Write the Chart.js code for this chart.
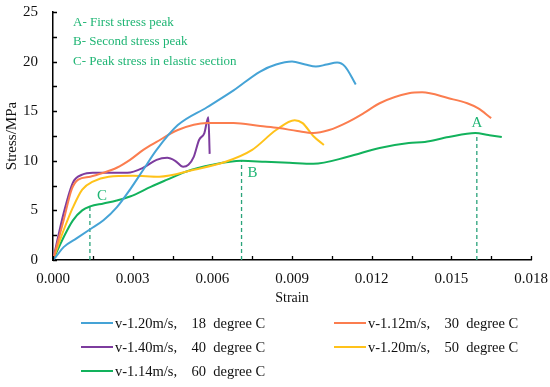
<!DOCTYPE html>
<html>
<head>
<meta charset="utf-8">
<style>
  body { margin: 0; background: #fff; }
  .wrap { position: relative; width: 550px; height: 387px; }
  .wrap canvas { position: absolute; left: 0; top: 0; }
  .legend {
    position: absolute; left: 81px; top: 311px; margin: 0; padding: 0; list-style: none;
    display: grid; grid-template-columns: 253px auto; grid-auto-rows: 24px;
    font: 14.5px "Liberation Serif", serif; color: #111;
  }
  .legend li { display: flex; align-items: center; white-space: pre; }
  .legend .swatch { width: 32px; height: 2px; margin-right: 2px; }
</style>
<script src="https://cdn.jsdelivr.net/npm/chart.js@4"></script>
</head>
<body>
<div class="wrap">
  <canvas class="my-chart" width="550" height="387"></canvas>
  <ul class="legend"></ul>
</div>
<script>
// Curves (strain, stress in MPa)
const strain18 = [0, 0.0001, 0.0004, 0.0009, 0.0014, 0.0019, 0.0024, 0.0029, 0.0034, 0.0039, 0.0047, 0.0058, 0.0068, 0.0078, 0.0084, 0.0090, 0.0095, 0.0099, 0.0103, 0.0107, 0.0110, 0.0114];
const stress18 = [0, 0.3, 1.3, 2.2, 3.1, 4.0, 5.3, 7.1, 9.1, 11.1, 13.6, 15.4, 17.1, 19.0, 19.7, 20.0, 19.7, 19.5, 19.7, 19.9, 19.5, 17.7];

const strain30 = [0, 0.0004, 0.0007, 0.00095, 0.0014, 0.0019, 0.0024, 0.0029, 0.0034, 0.0039, 0.0047, 0.0058, 0.0068, 0.0078, 0.0085, 0.0092, 0.0098, 0.0104, 0.0111, 0.0117, 0.0123, 0.0134, 0.0139, 0.0149, 0.0156, 0.0160, 0.0165];
const stress30 = [0, 4.0, 7.1, 8.1, 8.4, 8.8, 9.3, 10.1, 11.1, 11.9, 13.1, 13.8, 13.8, 13.5, 13.3, 13.0, 12.8, 13.1, 13.9, 14.8, 15.8, 16.8, 16.9, 16.3, 15.8, 15.3, 14.3];

const strain40 = [0, 0.0004, 0.00075, 0.0011, 0.0015, 0.0021, 0.0028, 0.0034, 0.0039, 0.0043, 0.0046, 0.0049, 0.0051, 0.0053, 0.0055, 0.0057, 0.00585, 0.0059];
const stress40 = [0, 4.7, 7.8, 8.6, 8.8, 8.8, 8.8, 9.3, 10.1, 10.3, 10.0, 9.4, 9.6, 10.4, 12.1, 12.8, 14.4, 10.7];

const strain50 = [0, 0.0004, 0.00075, 0.0011, 0.0015, 0.0021, 0.0030, 0.0040, 0.0053, 0.0065, 0.0075, 0.0084, 0.0091, 0.0094, 0.0098, 0.0102];
const stress50 = [0, 3.0, 5.3, 7.1, 7.9, 8.4, 8.5, 8.4, 9.1, 9.9, 11.1, 13.1, 14.1, 13.8, 12.5, 11.6];

const strain60 = [0, 0.0004, 0.00075, 0.0011, 0.0014, 0.0019, 0.0024, 0.0029, 0.0037, 0.0043, 0.0050, 0.0060, 0.0071, 0.0080, 0.0089, 0.0098, 0.0111, 0.0123, 0.0134, 0.0140, 0.0149, 0.0159, 0.0164, 0.0169];
const stress60 = [0, 2.3, 4.0, 5.0, 5.4, 5.7, 6.0, 6.4, 7.4, 8.1, 8.9, 9.6, 10.0, 9.9, 9.8, 9.7, 10.4, 11.3, 11.8, 11.9, 12.4, 12.8, 12.6, 12.4];

const seriesLabels = [
  "v-1.20m/s,    18  degree C",
  "v-1.12m/s,    30  degree C",
  "v-1.40m/s,    40  degree C",
  "v-1.20m/s,    50  degree C",
  "v-1.14m/s,    60  degree C",
];
const seriesColors = ["#45a3d6", "#fb7d4f", "#7d3c9e", "#ffc21a", "#12b25c"];

// Marked peaks (A, B, C)
const peakLabels = ["A", "B", "C"];
const peakStrain = [0.01596, 0.0071, 0.00139];
const peakStress = [12.8, 10.0, 5.4];
const notes = ["A- First stress peak", "B- Second stress peak", "C- Peak stress in elastic section"];
const noteColor = "#1fb574";

const toPoints = (xs, ys) => xs.map((x, i) => ({ x: x, y: ys[i] }));

const curves = [
  toPoints(strain18, stress18),
  toPoints(strain30, stress30),
  toPoints(strain40, stress40),
  toPoints(strain50, stress50),
  toPoints(strain60, stress60),
];

const datasets = curves.map((pts, i) => ({
  label: seriesLabels[i],
  data: pts,
  showLine: true,
  borderColor: seriesColors[i],
  backgroundColor: seriesColors[i],
  borderWidth: 2,
  pointRadius: 0,
  cubicInterpolationMode: "monotone",
}));

// dashed drop lines under the peaks
peakLabels.forEach((l, i) => {
  datasets.push({
    label: "peak " + l,
    data: [{ x: peakStrain[i], y: 0 }, { x: peakStrain[i], y: peakStress[i] }],
    showLine: true,
    borderColor: "#2aa37a",
    borderWidth: 1.3,
    borderDash: [4, 3],
    pointRadius: 0,
  });
});

// inward ticks, notes and the A/B/C letters
const markerPlugin = {
  id: "markers",
  afterDraw(chart) {
    const { ctx, chartArea, scales: { x, y } } = chart;
    ctx.save();
    ctx.strokeStyle = "#000";
    ctx.lineWidth = 1.3;
    ctx.beginPath();
    x.ticks.forEach((t) => {
      const px = Math.round(x.getPixelForValue(t.value)) + 0.5;
      ctx.moveTo(px, chartArea.bottom);
      ctx.lineTo(px, chartArea.bottom - 4);
    });
    y.ticks.forEach((t) => {
      const py = Math.round(y.getPixelForValue(t.value)) + 0.5;
      ctx.moveTo(chartArea.left, py);
      ctx.lineTo(chartArea.left + 4, py);
    });
    ctx.stroke();

    ctx.fillStyle = noteColor;
    ctx.font = '13px "Liberation Serif", serif';
    ctx.textBaseline = "middle";
    notes.forEach((n, i) => ctx.fillText(n, chartArea.left + 20, chartArea.top + 10.5 + i * 19.5));

    const shifts = [[0, -10], [11, 12], [12, -10]];
    ctx.font = '15px "Liberation Serif", serif';
    ctx.textAlign = "center";
    peakLabels.forEach((l, i) => {
      const px = x.getPixelForValue(peakStrain[i]) + shifts[i][0];
      const py = y.getPixelForValue(peakStress[i]) + shifts[i][1];
      ctx.fillText(l, px, py);
    });
    ctx.restore();
  },
};

// let the tick labels hang over the edges instead of shrinking the plot
const noOverhang = (scale) => {
  scale.paddingTop = 0;
  scale.paddingBottom = 0;
  scale.paddingLeft = 0;
  scale.paddingRight = 0;
};

Chart.defaults.font.family = '"Liberation Serif", "Times New Roman", serif';
Chart.defaults.color = "#111";

const myChart = new Chart(document.querySelector(".my-chart"), {
  type: "scatter",
  data: { datasets: datasets },
  options: {
    responsive: false,
    animation: false,
    layout: { padding: { left: 0, top: 12, right: 19, bottom: 80 } },
    plugins: {
      legend: { display: false },
      tooltip: { enabled: false },
    },
    scales: {
      x: {
        type: "linear",
        min: 0,
        max: 0.018,
        grid: { display: false, drawTicks: false },
        border: { display: true, color: "#000", width: 1.5 },
        ticks: {
          stepSize: 0.0015,
          autoSkip: false,
          maxRotation: 0,
          padding: 10,
          font: { size: 15 },
          callback: (v, i) => (i % 2 === 0 ? v.toFixed(3) : ""),
        },
        title: { display: true, text: "Strain", font: { size: 14 }, padding: 0 },
        afterFit: (scale) => { scale.height = 47; noOverhang(scale); },
      },
      y: {
        min: 0,
        max: 25,
        grid: { display: false, drawTicks: false },
        border: { display: true, color: "#000", width: 1.5 },
        ticks: {
          stepSize: 2.5,
          autoSkip: false,
          padding: 15,
          font: { size: 15 },
          callback: (v) => (v % 5 === 0 ? v : ""),
        },
        title: { display: true, text: "Stress/MPa", font: { size: 15 }, padding: { top: 3, bottom: 0 } },
        afterFit: (scale) => { scale.width = 53; noOverhang(scale); },
      },
    },
  },
  plugins: [markerPlugin],
});

// Legend in two columns, built from the curve datasets
const populateLegend = () => {
  const ul = document.querySelector(".legend");
  ul.innerHTML = "";
  seriesLabels.forEach((label, i) => {
    const li = document.createElement("li");
    li.innerHTML = `<span class="swatch" style="background:${seriesColors[i]}"></span>${label}`;
    ul.appendChild(li);
  });
};
populateLegend();
</script>
</body>
</html>
